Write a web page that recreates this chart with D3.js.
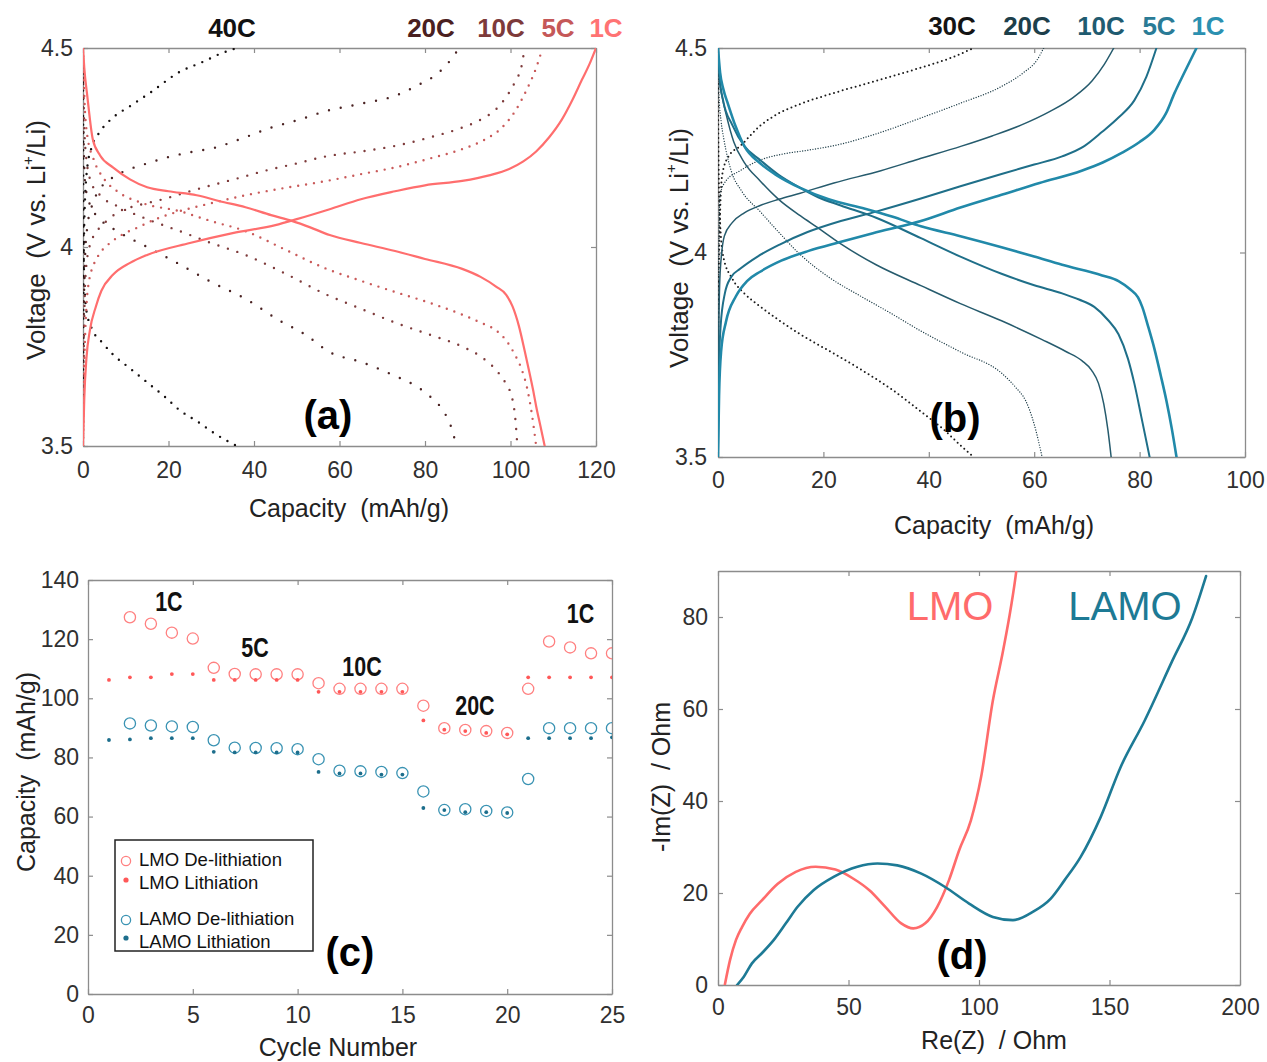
<!DOCTYPE html>
<html><head><meta charset="utf-8">
<script src="https://cdn.jsdelivr.net/npm/d3@7"></script>
<style>
body{margin:0;background:#fff;}
svg text{font-family:"Liberation Sans",Arial,sans-serif;}
</style></head><body>
<svg id="fig" width="1267" height="1062"></svg>
<script>
// ---------- (a) LMO charge / discharge profiles: [capacity mAh/g, voltage V] ----------
const lmoRates = ["40C", "20C", "10C", "5C", "1C"];
const lmo40Charge = [[0,3.5],[0.1,3.9],[0.4,4.1],[1,4.2],[2,4.25],[4,4.29],[7,4.325],[11,4.354],[16,4.39],[22.6,4.44],[28,4.465],[32,4.485],[36,4.5]];
const lmo40Discharge = [[0,4.5],[0.05,4.2],[0.2,3.95],[0.8,3.84],[2.3,3.79],[4.5,3.76],[7,3.73],[11,3.695],[15,3.66],[19,3.625],[22.6,3.59],[27,3.56],[31,3.53],[36,3.5]];
const lmo20Charge = [[0,3.5],[0.15,3.8],[0.5,3.98],[1,4.05],[2,4.1],[4,4.146],[7,4.175],[11,4.196],[15,4.21],[19.6,4.225],[25,4.238],[31,4.25],[37,4.272],[44,4.3],[50,4.318],[57,4.342],[65,4.36],[73,4.38],[78,4.405],[83.4,4.44],[86,4.47],[88,4.5]];
const lmo20Discharge = [[0,4.5],[0.1,4.3],[0.5,4.16],[1.5,4.11],[4,4.07],[8,4.04],[15,4.0],[22,3.96],[30,3.912],[38,3.87],[46,3.815],[52,3.78],[57.7,3.736],[65.4,3.71],[73,3.676],[78,3.65],[81,3.626],[83.5,3.6],[85,3.575],[86.5,3.535],[87.3,3.5]];
const lmo10Charge = [[0,3.5],[0.2,3.75],[0.6,3.93],[1.5,4.0],[3.3,4.04],[5.5,4.065],[8.6,4.09],[13,4.105],[18.7,4.12],[24,4.137],[30,4.155],[36,4.172],[42,4.19],[50,4.21],[57,4.228],[65,4.24],[73,4.254],[81,4.275],[88.7,4.3],[93,4.32],[96.7,4.347],[99.5,4.385],[101.3,4.42],[102.5,4.45],[103.3,4.5]];
const lmo10Discharge = [[0,4.5],[0.2,4.33],[0.8,4.22],[2,4.16],[4,4.13],[8.6,4.1],[15,4.07],[22.6,4.04],[30,4.01],[38,3.98],[47,3.935],[57,3.88],[65,3.845],[73,3.81],[81,3.78],[88.7,3.75],[93,3.725],[96.7,3.69],[99,3.655],[100.4,3.62],[101.2,3.56],[101.6,3.5]];
const lmo5Charge = [[0,3.5],[0.3,3.7],[0.8,3.85],[1.5,3.92],[2.3,3.95],[4,3.985],[6.3,4.01],[9,4.03],[13,4.05],[17,4.07],[22.6,4.09],[30,4.11],[38,4.13],[47,4.148],[57,4.166],[65,4.183],[73,4.2],[81,4.222],[88.7,4.246],[94,4.27],[98,4.3],[101,4.34],[104,4.4],[106,4.45],[107.5,4.5]];
const lmo5Discharge = [[0,4.5],[0.3,4.38],[1,4.28],[2.5,4.22],[5,4.17],[8,4.14],[14,4.11],[22.6,4.09],[30,4.065],[38,4.04],[47,3.995],[57,3.945],[65,3.915],[73,3.887],[81,3.86],[88.7,3.83],[93,3.81],[96.7,3.79],[99,3.765],[101,3.73],[102.7,3.69],[104,3.64],[105,3.58],[106,3.5]];
const lmo1Charge = [[0,3.5],[0.3,3.62],[0.8,3.72],[1.6,3.79],[3,3.85],[4.3,3.89],[7,3.93],[11,3.96],[15,3.98],[25,4.01],[35,4.035],[45,4.055],[50,4.07],[57.7,4.095],[65,4.12],[73,4.14],[80,4.155],[88.7,4.166],[95,4.18],[99.7,4.196],[103,4.215],[106,4.24],[109,4.275],[112,4.32],[114.5,4.37],[116.7,4.42],[118.5,4.46],[120,4.5]];
const lmo1Discharge = [[0,4.5],[0.3,4.45],[1,4.38],[2.3,4.27],[4,4.23],[7,4.2],[11,4.17],[15,4.15],[20,4.14],[26.6,4.13],[32,4.115],[38,4.1],[44,4.08],[49,4.065],[53,4.05],[57.7,4.03],[65,4.01],[73,3.99],[80,3.97],[88.7,3.945],[93,3.925],[96.7,3.9],[99,3.88],[100.5,3.85],[102,3.8],[103.3,3.74],[104.4,3.686],[105.3,3.64],[106,3.6],[107,3.55],[108,3.5]];

// ---------- (b) LAMO charge / discharge profiles ----------
const lamoRates = ["30C", "20C", "10C", "5C", "1C"];
const lamo30Charge = [[0,3.5],[0.05,3.8],[0.3,4.05],[0.8,4.19],[2,4.235],[4.2,4.26],[8,4.31],[11.5,4.34],[15.6,4.363],[22,4.39],[30.9,4.423],[38,4.45],[44,4.475],[48.5,4.5]];
const lamo30Discharge = [[0,4.5],[0.05,4.3],[0.3,4.1],[1,3.99],[2.7,3.936],[5,3.9],[8,3.868],[11.5,3.835],[15.6,3.8],[21,3.76],[27.1,3.714],[33,3.665],[38.5,3.611],[43,3.565],[46.2,3.526],[48.5,3.5]];
const lamo20Charge = [[0,3.5],[0.05,3.8],[0.2,4.05],[0.4,4.141],[1.5,4.175],[4.2,4.2],[8,4.226],[12,4.24],[17,4.25],[23.3,4.265],[30,4.29],[38.5,4.329],[46,4.365],[53.8,4.406],[58,4.44],[60.5,4.47],[61.8,4.5]];
const lamo20Discharge = [[0,4.5],[0.2,4.38],[0.6,4.32],[1.1,4.278],[2.5,4.2],[4.5,4.15],[8,4.1],[11.5,4.05],[15.6,3.995],[21,3.94],[27.1,3.893],[33,3.85],[38.5,3.808],[46,3.757],[53.8,3.705],[56.5,3.67],[58.4,3.637],[60,3.58],[61.5,3.5]];
const lamo10Charge = [[0,3.5],[0.1,3.75],[0.4,3.95],[1.2,4.04],[2.7,4.073],[5,4.097],[8,4.115],[11.5,4.13],[15.6,4.145],[22,4.17],[30.9,4.2],[38,4.228],[46.2,4.26],[52,4.285],[57.6,4.312],[63,4.345],[67.5,4.38],[71,4.42],[73.3,4.46],[75.1,4.5]];
const lamo10Discharge = [[0,4.5],[0.3,4.42],[0.8,4.38],[1.5,4.34],[3,4.27],[5,4.22],[8,4.175],[11.5,4.13],[15.6,4.09],[19,4.06],[23.3,4.021],[30,3.97],[38.5,3.919],[46,3.875],[53.8,3.833],[61.5,3.787],[66,3.758],[69.1,3.735],[70.9,3.712],[72.2,3.68],[73.2,3.63],[74,3.565],[74.6,3.5]];
const lamo5Charge = [[0,3.5],[0.15,3.7],[0.5,3.82],[1.3,3.9],[2.5,3.94],[4.2,3.96],[7.5,3.99],[11.8,4.02],[17,4.05],[23.3,4.077],[30,4.1],[38.5,4.132],[46,4.162],[53.8,4.192],[60,4.215],[65.3,4.235],[69.5,4.26],[72.9,4.295],[76,4.33],[79,4.372],[81.3,4.43],[83.2,4.5]];
const lamo5Discharge = [[0,4.5],[0.3,4.43],[1,4.37],[2.7,4.312],[5,4.26],[8,4.226],[11.5,4.19],[15.6,4.158],[19,4.135],[23.3,4.115],[30,4.085],[38.5,4.035],[46,3.99],[53.8,3.948],[60,3.92],[65.3,3.9],[68.5,3.885],[71.4,3.867],[74,3.835],[76,3.8],[77.8,3.74],[79,3.68],[80.3,3.6],[81.9,3.5]];
const lamo1Charge = [[0,3.5],[0.2,3.65],[0.6,3.76],[1.5,3.83],[3.4,3.893],[5.5,3.93],[8,3.953],[12,3.98],[17.2,4.004],[23,4.025],[29.4,4.047],[38.5,4.077],[46,4.11],[53.8,4.141],[61,4.17],[69,4.2],[73,4.22],[76.7,4.244],[80,4.27],[82.8,4.3],[85,4.34],[86.6,4.389],[88.5,4.44],[90.8,4.5]];
const lamo1Discharge = [[0,4.5],[0.4,4.44],[1,4.4],[1.9,4.363],[3.3,4.31],[5,4.26],[8,4.218],[11,4.19],[15.6,4.158],[21,4.13],[27.9,4.107],[33,4.088],[38.5,4.064],[46,4.04],[53.8,4.013],[60,3.99],[65.3,3.97],[72.9,3.944],[76,3.93],[78.2,3.91],[79.7,3.89],[80.5,3.867],[81.6,3.82],[82.8,3.765],[84,3.7],[85.1,3.637],[86.1,3.57],[87,3.5]];

// ---------- (c) rate capability, capacity (mAh/g) per cycle ----------
const cycles = d3.range(1, 26);
const lmoDelith  = [null,127.4,125.2,122.2,120.2,110.3,108.2,108.1,108.1,108.1,105.1,103.2,103.2,103.2,103.2,97.5,89.9,89.3,88.9,88.3,103.2,119.2,117.2,115.2,115.2];
const lmoLith    = [106.2,107.1,107.1,108.2,108.2,106.2,106.2,106.2,106.2,106.2,102.2,102.2,102.2,102.2,102.2,92.5,89.4,88.9,88.3,87.8,107.1,107.1,107.1,107.1,107.1];
const lamoDelith = [null,91.5,90.8,90.5,90.3,85.8,83.3,83.2,83.1,82.8,79.4,75.5,75.3,75.1,74.7,68.5,62.2,62.5,61.9,61.4,72.7,89.9,89.9,89.9,89.9];
const lamoLith   = [85.9,86.1,86.5,86.5,86.5,81.9,81.7,81.7,81.7,81.7,75.1,74.6,74.6,74.2,74.2,62.9,62.2,61.5,61.5,61.2,86.5,86.5,86.5,86.5,86.8];
const rateLabelsC = [["1C",3.86,132.6],["5C",7.97,117.3],["10C",13.07,110.9],["20C",18.46,97.7],["1C",23.5,128.5]];

// ---------- (d) Nyquist plots: [Re(Z), -Im(Z)] in Ohm ----------
const lmoEIS = [[2.6,0],[4.6,5.4],[6.9,9.8],[9.2,12.6],[12.2,15.5],[16.8,18.4],[22.9,22],[29.8,24.6],[37.4,25.7],[45,25.1],[51.9,23.1],[58,20.6],[64.1,17],[70.2,13.4],[74.8,12.3],[79.4,13.4],[84,17],[88.5,22.8],[92.4,29.3],[96.9,35.8],[100.8,45.2],[105.3,61.8],[109.2,72.6],[112.2,82],[114.2,89.6],[114.5,91]];
const lamoEIS = [[7.3,0],[9.9,1.8],[13,4.7],[16.8,6.9],[21.4,9.8],[26,13.4],[30.5,17],[36.6,20.6],[44.3,23.5],[53.4,25.7],[61.1,26.4],[68.7,26],[77.9,24.2],[87,21.3],[96.2,17.7],[105.3,14.8],[113,14.1],[120.6,15.9],[127.5,18.8],[132.8,22.8],[138.9,27.8],[146.6,36.5],[154.2,47.3],[163.4,57.4],[174,70.4],[181.7,79.8],[187,88.9]];

// ---------- drawing ----------
const svg = d3.select("#fig");
const TICK = "#8c8c8c";

function panel(id, box, xDom, yDom, xTicks, yTicks, pad) {
  const x = d3.scaleLinear().domain(xDom).range([box.x0, box.x1]);
  const y = d3.scaleLinear().domain(yDom).range([box.y1, box.y0]);
  const g = svg.append("g");
  const style = sel => {
    sel.select(".domain").attr("stroke", TICK).attr("stroke-width", 1.3);
    sel.selectAll(".tick line").attr("stroke", TICK).attr("stroke-width", 1.2);
    sel.selectAll(".tick text").attr("font-size", 23).attr("fill", "#303030")
      .attr("font-family", "Liberation Sans, Arial, sans-serif");
  };
  const fmt = d => String(d);
  g.append("g").attr("transform", `translate(0,${box.y1})`)
    .call(d3.axisBottom(x).tickValues(xTicks).tickSizeInner(-5).tickSizeOuter(0).tickPadding(pad.x).tickFormat(fmt)).call(style);
  g.append("g").attr("transform", `translate(0,${box.y0})`)
    .call(d3.axisTop(x).tickValues(xTicks).tickSizeInner(-5).tickSizeOuter(0).tickFormat("")).call(style);
  g.append("g").attr("transform", `translate(${box.x0},0)`)
    .call(d3.axisLeft(y).tickValues(yTicks).tickSizeInner(-5).tickSizeOuter(0).tickPadding(pad.y).tickFormat(fmt)).call(style);
  g.append("g").attr("transform", `translate(${box.x1},0)`)
    .call(d3.axisRight(y).tickValues(yTicks).tickSizeInner(-5).tickSizeOuter(0).tickFormat("")).call(style);
  svg.append("clipPath").attr("id", id).append("rect")
    .attr("x", box.x0).attr("y", box.y0).attr("width", box.x1 - box.x0).attr("height", box.y1 - box.y0);
  const plot = svg.append("g").attr("clip-path", `url(#${id})`);
  return {x, y, plot};
}

function title(x, y, txt, rotate) {
  const t = svg.append("text").attr("text-anchor", "middle").attr("dominant-baseline", "central")
    .attr("font-size", 25).attr("fill", "#222").style("white-space", "pre");
  if (rotate) t.attr("transform", `translate(${x},${y}) rotate(-90)`);
  else t.attr("x", x).attr("y", y);
  return t;
}
function voltageTitle(x, y) {
  const t = title(x, y, "", true).attr("font-size", 26);
  t.append("tspan").text("Voltage  (V vs. Li");
  t.append("tspan").attr("font-size", 15).attr("dy", -9).text("+");
  t.append("tspan").attr("dy", 9).text("/Li)");
}
function panelTag(x, y, txt) {
  svg.append("text").attr("x", x).attr("y", y).attr("text-anchor", "middle").attr("dominant-baseline", "central")
    .attr("font-family", "Lato, sans-serif").attr("font-weight", 700).attr("font-size", 40).attr("fill", "#000").text(txt);
}
function rateTag(x, y, txt, color) {
  svg.append("text").attr("x", x).attr("y", y).attr("text-anchor", "middle")
    .attr("font-family", "Lato, sans-serif").attr("font-weight", 700).attr("font-size", 26).attr("fill", color).text(txt);
}
function curve(p, data, color, width, gap) {
  const line = d3.line().x(d => p.x(d[0])).y(d => p.y(d[1])).curve(d3.curveMonotoneX);
  const path = p.plot.append("path").attr("d", line(data)).attr("fill", "none")
    .attr("stroke", color).attr("stroke-width", width).attr("stroke-linecap", "round").attr("stroke-linejoin", "round");
  if (gap) path.attr("stroke-dasharray", `0 ${gap}`);
}

// (a) LMO
const pa = panel("clipA", {x0: 83, x1: 596, y0: 48, y1: 446}, [0, 120], [3.5, 4.5], d3.range(0, 121, 20), [3.5, 4, 4.5], {x: 16, y: 10});
const lmoColors = ["#161010", "#4a2222", "#7e3b3b", "#c95a5a", "#ff6e6e"];
const lmoLabelColors = ["#111", "#4a2020", "#7d3a3a", "#c55858", "#ff7373"];
const lmoSeries = [[lmo40Charge, lmo40Discharge], [lmo20Charge, lmo20Discharge], [lmo10Charge, lmo10Discharge], [lmo5Charge, lmo5Discharge], [lmo1Charge, lmo1Discharge]];
const lmoGaps = [8.5, 12, 10, 8, 0];
lmoSeries.forEach((s, i) => s.forEach(c => curve(pa, c, lmoColors[i], i === 4 ? 2.2 : 2.4, lmoGaps[i])));
const lmoLabelX = [232, 431, 501, 558, 606];
lmoRates.forEach((r, i) => rateTag(lmoLabelX[i], 37, r, lmoLabelColors[i]));
voltageTitle(36, 240);
title(349, 508).text("Capacity  (mAh/g)");
panelTag(328, 415, "(a)");

// (b) LAMO
const pb = panel("clipB", {x0: 718, x1: 1245, y0: 48, y1: 457}, [0, 100], [3.5, 4.5], d3.range(0, 101, 20), [3.5, 4, 4.5], {x: 15, y: 11});
const lamoColors = ["#1a1a1a", "#22404b", "#265b6d", "#1f6f89", "#2189a9"];
const lamoLabelColors = ["#141414", "#1d3f4b", "#1f5b70", "#2a7b96", "#2b90b0"];
const lamoSeries = [[lamo30Charge, lamo30Discharge], [lamo20Charge, lamo20Discharge], [lamo10Charge, lamo10Discharge], [lamo5Charge, lamo5Discharge], [lamo1Charge, lamo1Discharge]];
const lamoWidths = [2.0, 1.4, 1.5, 2.0, 2.6];
const lamoGaps = [4.5, 2.6, 0, 0, 0];
lamoSeries.forEach((s, i) => s.forEach(c => curve(pb, c, lamoColors[i], lamoWidths[i], lamoGaps[i])));
const lamoLabelX = [952, 1027, 1101, 1159, 1208];
lamoRates.forEach((r, i) => rateTag(lamoLabelX[i], 35, r, lamoLabelColors[i]));
voltageTitle(679, 248);
title(994, 525).text("Capacity  (mAh/g)");
panelTag(955, 418, "(b)");

// (c) rate capability
const pc = panel("clipC", {x0: 88, x1: 612, y0: 580, y1: 994}, [0, 25], [0, 140], [0, 5, 10, 15, 20, 25], d3.range(0, 141, 20), {x: 13, y: 9});
const LMO_RING = "#ff8080", LMO_DOT = "#ff5858", LAMO_RING = "#3a93b3", LAMO_DOT = "#1d6e8c";
const rings = (vals, color) => pc.plot.append("g").selectAll("circle")
  .data(cycles.map((c, i) => [c, vals[i]]).filter(d => d[1] != null)).join("circle")
  .attr("cx", d => pc.x(d[0])).attr("cy", d => pc.y(d[1])).attr("r", 5.6)
  .attr("fill", "none").attr("stroke", color).attr("stroke-width", 1.3);
const dots = (vals, color) => pc.plot.append("g").selectAll("circle")
  .data(cycles.map((c, i) => [c, vals[i]])).join("circle")
  .attr("cx", d => pc.x(d[0])).attr("cy", d => pc.y(d[1])).attr("r", 1.9).attr("fill", color);
rings(lmoDelith, LMO_RING); dots(lmoLith, LMO_DOT);
rings(lamoDelith, LAMO_RING); dots(lamoLith, LAMO_DOT);
rateLabelsC.forEach(([t, cx, cy]) => {
  const px = pc.x(cx), py = pc.y(cy);
  svg.append("text").attr("x", 0).attr("y", 0)
    .attr("text-anchor", "middle").attr("dominant-baseline", "central").attr("font-weight", 700)
    .attr("font-size", 25).attr("fill", "#111")
    .attr("transform", `translate(${px},${py}) scale(0.86,1.1)`).text(t);
});
// legend
const lg = svg.append("g");
lg.append("rect").attr("x", 115).attr("y", 840).attr("width", 198).attr("height", 111)
  .attr("fill", "#fff").attr("stroke", "#222").attr("stroke-width", 1.5);
const legendRows = [["LMO De-lithiation", "ring", LMO_RING, 861, 859], ["LMO Lithiation", "dot", LMO_DOT, 880, 882],
                    ["LAMO De-lithiation", "ring", LAMO_RING, 920, 918], ["LAMO Lithiation", "dot", LAMO_DOT, 938, 941]];
legendRows.forEach(([t, kind, color, my, ty]) => {
  if (kind === "ring") lg.append("circle").attr("cx", 126).attr("cy", my).attr("r", 4.6).attr("fill", "none").attr("stroke", color).attr("stroke-width", 1.3);
  else lg.append("circle").attr("cx", 126).attr("cy", my).attr("r", 2.6).attr("fill", color);
  lg.append("text").attr("x", 139).attr("y", ty).attr("dominant-baseline", "central").attr("font-size", 18.5).attr("fill", "#111").text(t);
});
title(26, 772, "", true).text("Capacity  (mAh/g)");
title(338, 1047).text("Cycle Number");
panelTag(350, 952, "(c)");

// (d) impedance
const pd = panel("clipD", {x0: 718, x1: 1240, y0: 571, y1: 985}, [0, 200], [0, 90], d3.range(0, 201, 50), d3.range(0, 81, 20), {x: 14, y: 10});
curve(pd, lmoEIS, "#ff6b6b", 2.6, 0);
curve(pd, lamoEIS, "#1d7a95", 2.6, 0);
svg.append("text").attr("x", 950).attr("y", 606).attr("text-anchor", "middle").attr("dominant-baseline", "central")
  .attr("font-family", "Lato, sans-serif").attr("font-size", 40).attr("fill", "#ff6b6b").text("LMO");
svg.append("text").attr("x", 1125).attr("y", 606).attr("text-anchor", "middle").attr("dominant-baseline", "central")
  .attr("font-family", "Lato, sans-serif").attr("font-size", 40).attr("fill", "#1d7a95").text("LAMO");
title(661, 777, "", true).text("-Im(Z)  / Ohm");
title(994, 1040).text("Re(Z)  / Ohm");
panelTag(962, 955, "(d)");
</script>
</body></html>
